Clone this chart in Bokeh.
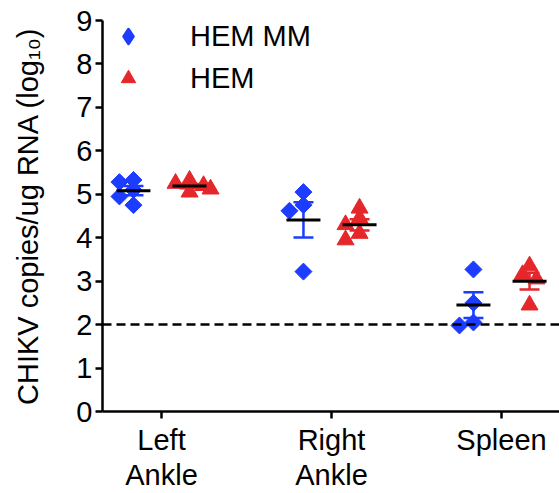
import math
import numpy as np
from bokeh.plotting import figure
from bokeh.models import (Range1d, FixedTicker, Span, Whisker, ColumnDataSource,
                          Legend, LegendItem, TeeHead)
from bokeh.embed import file_html
from bokeh.resources import INLINE

# ---------------- data ----------------
categories = ["Left\nAnkle", "Right\nAnkle", "Spleen"]
series_names = ["HEM MM", "HEM"]

hem_mm_left_ankle = [5.33, 5.28, 5.10, 4.95, 4.75]
hem_mm_right_ankle = [5.05, 4.75, 4.62, 3.22]
hem_mm_spleen = [3.27, 2.50, 2.05, 1.98]

hem_left_ankle = [5.32, 5.25, 5.20, 5.12, 5.05]
hem_right_ankle = [4.68, 4.45, 4.30, 4.10, 3.95]
hem_spleen = [3.35, 3.15, 3.05, 2.45]

limit_of_detection = 2.0
y_ticks = [0, 1, 2, 3, 4, 5, 6, 7, 8, 9]

hem_mm_groups = [hem_mm_left_ankle, hem_mm_right_ankle, hem_mm_spleen]
hem_groups = [hem_left_ankle, hem_right_ankle, hem_spleen]

# ---------------- style ----------------
BLUE = "#1c3cff"
RED = "#e5262b"
FONT = "Liberation Sans"
FS = "29px"

W, H = 559, 493
LEFT, TOP, BOTTOM = 102, 20, 80
frame_w = W - LEFT
frame_h = H - TOP - BOTTOM
px_per_x = 170.0
x_start = 1 - 59 / px_per_x
x_end = x_start + frame_w / px_per_x
px_per_y = frame_h / 9.0

p = figure(width=W, height=H, output_backend="svg", toolbar_location=None,
           x_range=Range1d(x_start, x_end), y_range=Range1d(0, 9),
           min_border_left=LEFT, min_border_right=0, min_border_top=TOP,
           min_border_bottom=BOTTOM)
p.outline_line_color = None
p.xgrid.visible = False
p.ygrid.visible = False
p.background_fill_color = "white"
p.border_fill_color = "white"


def swarm(center, vals, marker_px=10.0):
    """Simple compact beeswarm: spread overlapping points horizontally."""
    placed = []
    xs = [None] * len(vals)
    order = sorted(range(len(vals)), key=lambda i: -vals[i])
    step = 7.0
    cands = [0, -1, 1, -2, 2, -3, 3]
    for i in order:
        vy = vals[i] * px_per_y
        for c in cands:
            vx = c * step
            ok = all(math.hypot(vx - px, vy - py) >= marker_px for px, py in placed)
            if ok:
                break
        placed.append((vx, vy))
        xs[i] = center + vx / px_per_x
    return xs


off = 0.165
half = 0.1
renderers = {}
for name, groups, color, marker, sign in [
        ("HEM MM", hem_mm_groups, BLUE, "square", -1),
        ("HEM", hem_groups, RED, "triangle", 1)]:
    xs_all, ys_all = [], []
    mx, mean, lo, hi = [], [], [], []
    for k, vals in enumerate(groups):
        c = (k + 1) + sign * off
        xs_all += swarm(c, vals)
        ys_all += vals
        arr = np.array(vals)
        m = arr.mean()
        sem = arr.std(ddof=1) / math.sqrt(len(arr))
        mx.append(c); mean.append(m); lo.append(m - sem); hi.append(m + sem)
    if marker == "square":
        r = p.scatter(xs_all, ys_all, marker="square", size=12, angle=math.pi / 4,
                      fill_color=color, line_color=color)
        # legend-only glyph (legend ignores marker angle)
        lg = p.scatter([float("nan")], [float("nan")], marker="diamond", size=16,
                       fill_color=color, line_color=color, line_width=3,
                       line_join="round")
    else:
        r = p.scatter(xs_all, ys_all, marker="triangle", size=17,
                      fill_color=color, line_color=color)
        lg = r
    renderers[name] = lg
    src = ColumnDataSource(dict(x=mx, m=mean, lo=lo, hi=hi,
                                x0=[v - half for v in mx], x1=[v + half for v in mx]))
    p.segment(x0="x0", x1="x1", y0="m", y1="m", source=src,
              line_color="black", line_width=3)
    wk = Whisker(base="x", upper="hi", lower="lo", source=src, dimension="height",
                 line_color=color, line_width=2.5,
                 upper_head=TeeHead(size=20, line_color=color, line_width=2.5),
                 lower_head=TeeHead(size=20, line_color=color, line_width=2.5))
    p.add_layout(wk)

p.add_layout(Span(location=limit_of_detection, dimension="width",
                  line_color="black", line_width=2.5, line_dash="9 5"))

# axes
for ax in (p.xaxis[0], p.yaxis[0]):
    ax.axis_line_width = 2.5
    ax.axis_line_color = "black"
    ax.major_tick_line_width = 2.5
    ax.major_tick_line_color = "black"
    ax.major_tick_out = 7
    ax.major_tick_in = 0
    ax.minor_tick_line_color = None
    ax.major_label_text_font = FONT
    ax.major_label_text_font_size = FS
    ax.major_label_text_color = "black"

p.yaxis.ticker = FixedTicker(ticks=y_ticks)
p.yaxis.major_label_standoff = 3
p.yaxis.axis_label = "CHIKV copies/ug RNA (log\u2081\u2080)"
p.yaxis.axis_label_text_font = FONT
p.yaxis.axis_label_text_font_size = FS
p.yaxis.axis_label_text_font_style = "normal"
p.yaxis.axis_label_text_color = "black"
p.yaxis.axis_label_standoff = 29

p.xaxis.ticker = FixedTicker(ticks=[1, 2, 3])
p.xaxis.major_label_overrides = {i + 1: c for i, c in enumerate(categories)}
p.xaxis.major_label_standoff = 5
p.xaxis.major_label_text_line_height = 1.1

GH = 36
SP = 6
LEG_H = 2 * GH + SP
legend = Legend(items=[LegendItem(label=series_names[0], renderers=[renderers["HEM MM"]]),
                       LegendItem(label=series_names[1], renderers=[renderers["HEM"]])],
                location=(8, frame_h - LEG_H), glyph_width=GH, glyph_height=GH,
                label_standoff=44, spacing=SP, padding=0, margin=0,
                background_fill_alpha=0, border_line_color=None, border_line_alpha=0,
                label_text_font=FONT, label_text_font_size=FS, label_text_color="black")
p.add_layout(legend, "center")

open("out.html", "w").write(file_html(p, INLINE))
